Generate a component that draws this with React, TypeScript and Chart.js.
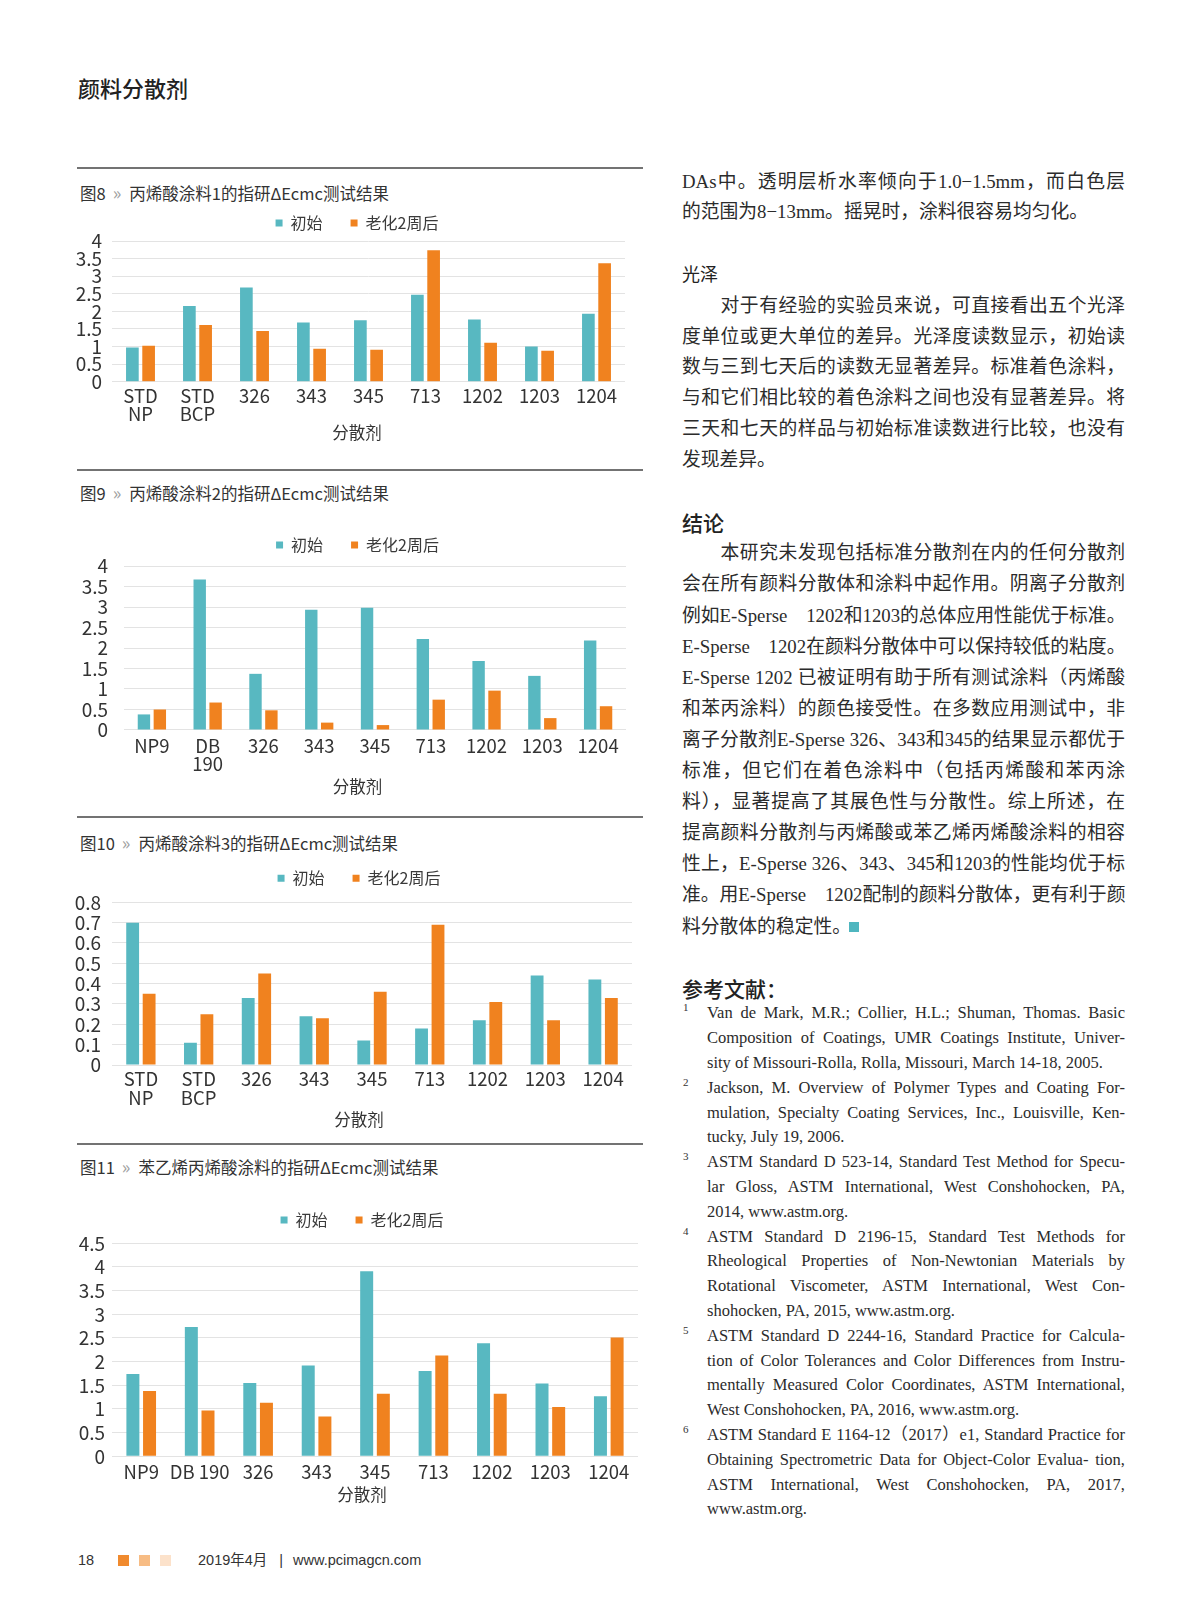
import React, { useEffect, useRef } from 'react';
import { Chart, registerables } from 'chart.js';

Chart.register(...registerables);

const SANS = '"Noto Sans CJK SC", "Noto Sans", sans-serif';
const SERIF = '"Liberation Serif", "Noto Sans CJK SC", serif';
const FOOT = '"Liberation Sans", "Noto Sans CJK SC", sans-serif';
const TEAL = '#58b8c1';
const ORANGE = '#f0821f';

// ---------- data ----------
const seriesNames = ['初始', '老化2周后'];
const xAxisTitle = '分散剂';

const fig8Categories = [['STD', 'NP'], ['STD', 'BCP'], '326', '343', '345', '713', '1202', '1203', '1204'];
const fig8Initial = [0.97, 2.15, 2.68, 1.68, 1.75, 2.47, 1.77, 1.0, 1.93];
const fig8Aged = [1.02, 1.61, 1.44, 0.94, 0.91, 3.74, 1.11, 0.88, 3.37];
const fig8YTicks = [0, 0.5, 1, 1.5, 2, 2.5, 3, 3.5, 4];

const fig9Categories = ['NP9', ['DB', '190'], '326', '343', '345', '713', '1202', '1203', '1204'];
const fig9Initial = [0.38, 3.67, 1.37, 2.93, 2.98, 2.22, 1.68, 1.32, 2.18];
const fig9Aged = [0.5, 0.67, 0.48, 0.18, 0.12, 0.74, 0.96, 0.29, 0.58];
const fig9YTicks = [0, 0.5, 1, 1.5, 2, 2.5, 3, 3.5, 4];

const fig10Categories = [['STD', 'NP'], ['STD', 'BCP'], '326', '343', '345', '713', '1202', '1203', '1204'];
const fig10Initial = [0.7, 0.11, 0.33, 0.24, 0.12, 0.18, 0.22, 0.44, 0.42];
const fig10Aged = [0.35, 0.25, 0.45, 0.23, 0.36, 0.69, 0.31, 0.22, 0.33];
const fig10YTicks = [0, 0.1, 0.2, 0.3, 0.4, 0.5, 0.6, 0.7, 0.8];

const fig11Categories = ['NP9', 'DB 190', '326', '343', '345', '713', '1202', '1203', '1204'];
const fig11Initial = [1.74, 2.73, 1.55, 1.92, 3.91, 1.8, 2.39, 1.54, 1.27];
const fig11Aged = [1.38, 0.97, 1.13, 0.84, 1.32, 2.13, 1.32, 1.04, 2.51];
const fig11YTicks = [0, 0.5, 1, 1.5, 2, 2.5, 3, 3.5, 4, 4.5];

// ---------- page text ----------
const pageHeader = '颜料分散剂';
const captions = [
  { fig: '图8', text: '丙烯酸涂料1的指研ΔEcmc测试结果' },
  { fig: '图9', text: '丙烯酸涂料2的指研ΔEcmc测试结果' },
  { fig: '图10', text: '丙烯酸涂料3的指研ΔEcmc测试结果' },
  { fig: '图11', text: '苯乙烯丙烯酸涂料的指研ΔEcmc测试结果' },
];

const para1: [string, boolean][] = [
  ['DAs中。透明层析水率倾向于1.0−1.5mm，而白色层', true],
  ['的范围为8−13mm。摇晃时，涂料很容易均匀化。', false],
];
const heading1 = '光泽';
const para2: [string, boolean][] = [
  ['\u3000\u3000对于有经验的实验员来说，可直接看出五个光泽', true],
  ['度单位或更大单位的差异。光泽度读数显示，初始读', true],
  ['数与三到七天后的读数无显著差异。标准着色涂料，', true],
  ['与和它们相比较的着色涂料之间也没有显著差异。将', true],
  ['三天和七天的样品与初始标准读数进行比较，也没有', true],
  ['发现差异。', false],
];
const heading2 = '结论';
const para3: [string, boolean][] = [
  ['\u3000\u3000本研究未发现包括标准分散剂在内的任何分散剂', true],
  ['会在所有颜料分散体和涂料中起作用。阴离子分散剂', true],
  ['例如E-Sperse\u30001202和1203的总体应用性能优于标准。', true],
  ['E-Sperse\u30001202在颜料分散体中可以保持较低的粘度。', true],
  ['E-Sperse 1202 已被证明有助于所有测试涂料（丙烯酸', true],
  ['和苯丙涂料）的颜色接受性。在多数应用测试中，非', true],
  ['离子分散剂E-Sperse 326、343和345的结果显示都优于', true],
  ['标准，但它们在着色涂料中（包括丙烯酸和苯丙涂', true],
  ['料），显著提高了其展色性与分散性。综上所述，在', true],
  ['提高颜料分散剂与丙烯酸或苯乙烯丙烯酸涂料的相容', true],
  ['性上，E-Sperse 326、343、345和1203的性能均优于标', true],
  ['准。用E-Sperse\u30001202配制的颜料分散体，更有利于颜', true],
  ['料分散体的稳定性。', false],
];
const heading3 = '参考文献：';
const references: string[][] = [
  [
    'Van de Mark, M.R.; Collier, H.L.; Shuman, Thomas. Basic',
    'Composition of Coatings, UMR Coatings Institute, Univer-',
    'sity of Missouri-Rolla, Rolla, Missouri, March 14-18, 2005.',
  ],
  [
    'Jackson, M. Overview of Polymer Types and Coating For-',
    'mulation, Specialty Coating Services, Inc., Louisville, Ken-',
    'tucky, July 19, 2006.',
  ],
  [
    'ASTM Standard D 523-14, Standard Test Method for Specu-',
    'lar Gloss, ASTM International, West Conshohocken, PA,',
    '2014, www.astm.org.',
  ],
  [
    'ASTM Standard D 2196-15, Standard Test Methods for',
    'Rheological Properties of Non-Newtonian Materials by',
    'Rotational Viscometer, ASTM International, West Con-',
    'shohocken, PA, 2015, www.astm.org.',
  ],
  [
    'ASTM Standard D 2244-16, Standard Practice for Calcula-',
    'tion of Color Tolerances and Color Differences from Instru-',
    'mentally Measured Color Coordinates, ASTM International,',
    'West Conshohocken, PA, 2016, www.astm.org.',
  ],
  [
    'ASTM Standard E 1164-12（2017）e1, Standard Practice for',
    'Obtaining Spectrometric Data for Object-Color Evalua- tion,',
    'ASTM International, West Conshohocken, PA, 2017,',
    'www.astm.org.',
  ],
];
const footerPage = '18';
const footerDate = '2019年4月';
const footerSite = 'www.pcimagcn.com';

// ---------- chart ----------
type Layout = {
  legendY: number;
  chartTop: number;
  chartBottom: number;
  titleY: number;
  chartLeft: number;
  chartRight: number;
  boxLeft: number;
  tickRight: number;
  xPad: number;
};

const LEG_FONT = 16;
const LEG_PAD = 28;
const LEG_BOX = 7;
const TITLE_FONT = 16.5;
const TITLE_LH = 1.2;

function legendGapPlugin(extra: number) {
  return {
    id: 'legendGap',
    beforeInit(chart: any) {
      const legend = chart.legend;
      if (!legend) return;
      const origFit = legend.fit;
      legend.fit = function () {
        origFit.call(this);
        this.height += extra;
      };
    },
  };
}

const noLabelClip = (s: any) => {
  s._computeLabelArea = () => undefined;
};

function BarChart(props: {
  categories: any[];
  initial: number[];
  aged: number[];
  yTicks: number[];
  layout: Layout;
}) {
  const { categories, initial, aged, yTicks, layout } = props;
  const ref = useRef<HTMLCanvasElement>(null);

  const itemH = Math.max(LEG_FONT, LEG_BOX);
  const legendTop = layout.legendY - LEG_PAD - itemH / 2;
  const canvasTop = Math.floor(legendTop);
  const padTop = legendTop - canvasTop;
  const legendExtra = layout.chartTop - legendTop - (itemH + LEG_PAD + 10);
  const titleH = TITLE_FONT * TITLE_LH;
  const xAxisH = layout.titleY - layout.chartBottom - titleH / 2;
  const bottomEdge = layout.titleY + titleH / 2;
  const canvasBottom = Math.ceil(bottomEdge) + 1;
  const padBottom = canvasBottom - bottomEdge;
  const canvasLeft = 40;
  const canvasRight = layout.chartRight + 6;
  const padLeft = layout.boxLeft - canvasLeft;
  const padRight = canvasRight - layout.chartRight;
  const width = canvasRight - canvasLeft;
  const height = canvasBottom - canvasTop;
  const yAxisW = layout.chartLeft - layout.boxLeft;
  const yTickPad = layout.chartLeft - layout.tickRight;

  useEffect(() => {
    if (!ref.current) return;
    const chart = new Chart(ref.current, {
      type: 'bar',
      data: {
        labels: categories,
        datasets: [
          {
            label: seriesNames[0],
            data: initial,
            backgroundColor: TEAL,
            borderWidth: 0,
            categoryPercentage: 0.57,
            barPercentage: 0.78,
          },
          {
            label: seriesNames[1],
            data: aged,
            backgroundColor: ORANGE,
            borderWidth: 0,
            categoryPercentage: 0.57,
            barPercentage: 0.78,
          },
        ],
      },
      options: {
        animation: false,
        responsive: false,
        maintainAspectRatio: false,
        layout: { padding: { left: padLeft, right: padRight, top: padTop, bottom: padBottom } },
        plugins: {
          legend: {
            display: true,
            position: 'top',
            align: 'center',
            labels: {
              boxWidth: LEG_BOX,
              boxHeight: LEG_BOX,
              padding: LEG_PAD,
              color: '#3a3a3a',
              font: { family: SANS, size: LEG_FONT },
            },
          },
          title: {
            display: true,
            position: 'bottom',
            text: xAxisTitle,
            color: '#333',
            font: { family: SANS, size: TITLE_FONT, weight: 'normal', lineHeight: TITLE_LH },
            padding: 0,
          },
          tooltip: { enabled: false },
        },
        scales: {
          x: {
            grid: { display: false, drawTicks: false },
            border: { display: false },
            ticks: {
              color: '#333',
              font: { family: SANS, size: 18.5, lineHeight: 0.98 },
              padding: layout.xPad,
              maxRotation: 0,
              minRotation: 0,
              autoSkip: false,
            },
            beforeUpdate: noLabelClip,
            afterFit: (s: any) => {
              s.height = xAxisH;
            },
          },
          y: {
            min: 0,
            max: yTicks[yTicks.length - 1],
            grid: { color: '#e3e3e3', lineWidth: 1, drawTicks: false },
            border: { display: false },
            ticks: {
              color: '#333',
              font: { family: SANS, size: 19 },
              padding: yTickPad,
              autoSkip: false,
              callback: (v: any) => String(v),
            },
            beforeUpdate: noLabelClip,
            afterBuildTicks: (s: any) => {
              s.ticks = yTicks.map((v) => ({ value: v }));
            },
            afterFit: (s: any) => {
              s.width = yAxisW;
            },
          },
        },
      } as any,
      plugins: [legendGapPlugin(legendExtra) as any],
    });
    return () => chart.destroy();
  }, []);

  return (
    <canvas
      ref={ref}
      width={width}
      height={height}
      style={{ position: 'absolute', left: canvasLeft, top: canvasTop, width, height }}
    />
  );
}

// ---------- text helpers ----------
function TextLine(props: {
  x: number;
  y: number;
  w?: number;
  text: string;
  justify?: boolean;
  font: string;
  size: number;
  lh: number;
  color?: string;
  weight?: any;
}) {
  const { x, y, w, text, justify, font, size, lh, color, weight } = props;
  return (
    <div
      style={{
        position: 'absolute',
        left: x,
        top: y - lh / 2,
        width: w,
        height: lh,
        lineHeight: lh + 'px',
        fontFamily: font,
        fontSize: size,
        color: color || '#2b2b2b',
        fontWeight: weight || 'normal',
        whiteSpace: 'nowrap',
        textAlign: justify ? 'justify' : 'left',
        textAlignLast: justify ? 'justify' : 'auto',
      } as any}
    >
      {text}
    </div>
  );
}

function Rule({ y }: { y: number }) {
  return (
    <div style={{ position: 'absolute', left: 77, top: y - 1, width: 566, height: 2, background: '#737373' }} />
  );
}

function Caption({ y, fig, text }: { y: number; fig: string; text: string }) {
  return (
    <div
      style={{
        position: 'absolute',
        left: 80,
        top: y - 12,
        height: 24,
        lineHeight: '24px',
        fontFamily: SANS,
        fontSize: 16.5,
        color: '#333',
        whiteSpace: 'nowrap',
      }}
    >
      <span>{fig}</span>
      <span style={{ color: '#a0a0a0', marginLeft: 7, marginRight: 8, fontSize: 18 }}>»</span>
      <span>{text}</span>
    </div>
  );
}

const layout8: Layout = { legendY: 223, chartTop: 241, chartBottom: 381.7, titleY: 433, chartLeft: 112, chartRight: 625, boxLeft: 89, tickRight: 102, xPad: 5.3 };
const layout9: Layout = { legendY: 545, chartTop: 566, chartBottom: 730, titleY: 787, chartLeft: 124, chartRight: 626, boxLeft: 89, tickRight: 108, xPad: 7 };
const layout10: Layout = { legendY: 878.3, chartTop: 902.3, chartBottom: 1065, titleY: 1120, chartLeft: 112, chartRight: 632, boxLeft: 86, tickRight: 101, xPad: 5.3 };
const layout11: Layout = { legendY: 1220, chartTop: 1243.3, chartBottom: 1456.3, titleY: 1495, chartLeft: 112, chartRight: 638, boxLeft: 86, tickRight: 105, xPad: 6.4 };

export default function App() {
  const COL_X = 682;
  const COL_W = 443;
  const BODY = 18.8;
  const REF_X = 707;
  const REF_W = 418;
  const refLines: { text: string; justify: boolean; num: number | null }[] = [];
  references.forEach((ref, i) => {
    ref.forEach((t, j) => refLines.push({ text: t, justify: j < ref.length - 1, num: j === 0 ? i + 1 : null }));
  });

  return (
    <div
      style={{
        position: 'absolute',
        left: 0,
        top: 0,
        width: 1200,
        height: 1601,
        background: '#ffffff',
        overflow: 'hidden',
      }}
    >
      <TextLine x={78} y={86.7} text={pageHeader} font={SANS} size={22} lh={30} color="#222" weight={500} />

      <Rule y={168.3} />
      <Caption y={191.7} fig={captions[0].fig} text={captions[0].text} />
      <Rule y={469.7} />
      <Caption y={491.7} fig={captions[1].fig} text={captions[1].text} />
      <Rule y={817.3} />
      <Caption y={841.7} fig={captions[2].fig} text={captions[2].text} />
      <Rule y={1144} />
      <Caption y={1166} fig={captions[3].fig} text={captions[3].text} />

      <BarChart categories={fig8Categories} initial={fig8Initial} aged={fig8Aged} yTicks={fig8YTicks} layout={layout8} />
      <BarChart categories={fig9Categories} initial={fig9Initial} aged={fig9Aged} yTicks={fig9YTicks} layout={layout9} />
      <BarChart categories={fig10Categories} initial={fig10Initial} aged={fig10Aged} yTicks={fig10YTicks} layout={layout10} />
      <BarChart categories={fig11Categories} initial={fig11Initial} aged={fig11Aged} yTicks={fig11YTicks} layout={layout11} />

      {para1.map(([t, j], i) => (
        <TextLine key={'p1' + i} x={COL_X} y={181.7 + 30 * i} w={COL_W} text={t} justify={j} font={SERIF} size={BODY} lh={30} />
      ))}
      <TextLine x={COL_X} y={273} text={heading1} font={SANS} size={18} lh={30} color="#222" />
      {para2.map(([t, j], i) => (
        <TextLine key={'p2' + i} x={COL_X} y={305.7 + 30.8 * i} w={COL_W} text={t} justify={j} font={SERIF} size={BODY} lh={30} />
      ))}
      <TextLine x={COL_X} y={521.7} text={heading2} font={SANS} size={21} lh={30} color="#222" weight={500} />
      {para3.map(([t, j], i) => (
        <TextLine key={'p3' + i} x={COL_X} y={553.3 + 31.1 * i} w={COL_W} text={t} justify={j} font={SERIF} size={BODY} lh={30} />
      ))}
      <div style={{ position: 'absolute', left: 849, top: 922, width: 10, height: 10, background: '#4fb6bf' }} />

      <TextLine x={COL_X} y={988.3} text={heading3} font={SANS} size={21} lh={30} color="#222" weight={500} />
      {refLines.map((r, k) => (
        <React.Fragment key={'r' + k}>
          {r.num !== null && (
            <TextLine x={683} y={1013.3 + 24.8 * k - 6} text={String(r.num)} font={SERIF} size={11} lh={14} color="#333" />
          )}
          <TextLine x={REF_X} y={1013.3 + 24.8 * k} w={REF_W} text={r.text} justify={r.justify} font={SERIF} size={16.5} lh={24} color="#2b2b2b" />
        </React.Fragment>
      ))}

      <TextLine x={78} y={1560} text={footerPage} font={FOOT} size={14.5} lh={20} color="#333" />
      <div style={{ position: 'absolute', left: 118, top: 1555, width: 11, height: 11, background: '#f08a2e' }} />
      <div style={{ position: 'absolute', left: 139, top: 1555, width: 11, height: 11, background: '#f7bc84' }} />
      <div style={{ position: 'absolute', left: 160, top: 1555, width: 11, height: 11, background: '#fce2cb' }} />
      <div
        style={{
          position: 'absolute',
          left: 198,
          top: 1550,
          height: 20,
          lineHeight: '20px',
          fontFamily: FOOT,
          fontSize: 14.5,
          color: '#333',
          whiteSpace: 'nowrap',
        }}
      >
        <span>{footerDate}</span>
        <span style={{ marginLeft: 12, marginRight: 10 }}>|</span>
        <span>{footerSite}</span>
      </div>
    </div>
  );
}
